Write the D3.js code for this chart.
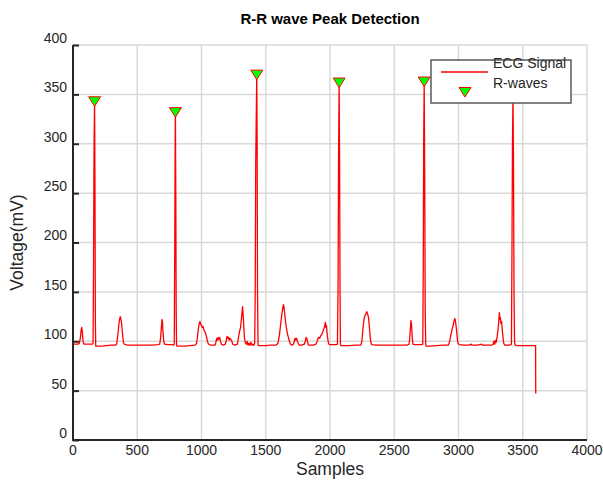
<!DOCTYPE html>
<html>
<head>
    <meta charset="utf-8">
    <title>R-R wave Peak Detection</title>
    <script src="https://d3js.org/d3.v7.min.js"></script>
    <style>
        body { margin: 0px; background: #fff; }
        text { font-family: "Liberation Sans", Arial, sans-serif; fill: #262626; }
    </style>
</head>
<body>
<svg width="603" height="480"></svg>
<script>

    // ECG trace: [sample, mV]
    var ecg = [
        [0, 60], [2, 97], [20, 97], [40, 97], [50, 98], [58, 104], [64, 112], [68, 114], [72, 110], [78, 100],
        [85, 97], [100, 97], [130, 97], [150, 97], [156, 98], [160, 180], [164, 300], [168, 343], [171, 260],
        [174, 120], [177, 95], [182, 95],
        [200, 95], [230, 95], [260, 95.5], [300, 96], [330, 96], [340, 97], [348, 105], [356, 116], [362, 122],
        [368, 125], [372, 123], [378, 118], [385, 108], [392, 99], [400, 97], [420, 96], [460, 96], [500, 96],
        [560, 96], [620, 96], [660, 96.5], [675, 97], [682, 104], [688, 114], [692, 122], [696, 120], [700, 110],
        [706, 100], [712, 97], [740, 96.5], [770, 96.5], [783, 96], [788, 97], [792, 200], [795, 300], [797, 332],
        [800, 250], [803, 130], [806, 96], [810, 95],
        [830, 95], [870, 95], [910, 95.5], [950, 96], [962, 98], [968, 104], [975, 112], [982, 118], [988, 120],
        [994, 117], [1000, 116], [1006, 114], [1012, 115], [1018, 112], [1025, 110], [1032, 108], [1040, 104],
        [1048, 99], [1056, 97], [1070, 96], [1090, 96], [1105, 96], [1112, 99], [1118, 103], [1124, 101],
        [1130, 104], [1136, 102], [1142, 104], [1148, 100], [1155, 97], [1170, 96], [1185, 97], [1192, 100],
        [1198, 105], [1204, 103], [1210, 104], [1216, 101], [1222, 103], [1228, 102], [1236, 100], [1244, 97],
        [1260, 96], [1280, 97], [1288, 104], [1296, 110], [1304, 114], [1310, 122], [1316, 130], [1320, 135],
        [1324, 127], [1328, 118], [1334, 104], [1340, 99], [1348, 97], [1356, 100], [1362, 96], [1370, 98],
        [1376, 96], [1384, 99], [1392, 96], [1400, 97], [1408, 96], [1414, 98], [1418, 150], [1422, 280],
        [1430, 370], [1433, 300], [1436, 150], [1440, 96], [1446, 95.5],
        [1470, 95.5], [1500, 95.5], [1540, 96], [1580, 96], [1595, 98], [1605, 105], [1615, 116], [1622, 124],
        [1628, 130], [1634, 135], [1638, 137], [1642, 134], [1648, 128], [1654, 120], [1660, 114], [1668, 108],
        [1676, 104], [1684, 100], [1692, 97], [1705, 96], [1715, 97], [1722, 100], [1728, 103], [1734, 101],
        [1740, 103], [1746, 100], [1752, 98], [1760, 96], [1780, 96], [1800, 97], [1808, 100], [1814, 104],
        [1820, 103], [1826, 99], [1832, 96], [1850, 96], [1870, 96], [1890, 97], [1900, 100], [1910, 104],
        [1920, 103], [1930, 106], [1940, 108], [1950, 112], [1958, 115], [1964, 119], [1968, 114], [1972, 116],
        [1976, 110], [1982, 103], [1988, 98], [1995, 96.5], [2010, 96.5], [2030, 96.5], [2050, 96.5], [2058, 97],
        [2063, 160], [2067, 290], [2071, 362], [2075, 280], [2078, 150], [2081, 97], [2086, 95.5],
        [2110, 95.5], [2150, 95.5], [2200, 96], [2240, 96], [2248, 100], [2256, 112], [2264, 122], [2272, 126],
        [2280, 128], [2286, 130], [2292, 128], [2300, 124], [2308, 112], [2316, 100], [2324, 96.5], [2360, 96],
        [2400, 96], [2450, 96], [2500, 96], [2550, 96], [2600, 96], [2615, 97], [2620, 102], [2625, 112],
        [2630, 121], [2635, 116], [2640, 104], [2645, 97], [2660, 96.5], [2690, 96.5], [2710, 96.5], [2722, 97],
        [2726, 180], [2729, 300], [2733, 363], [2737, 270], [2741, 130], [2745, 96], [2750, 95],
        [2780, 95], [2830, 95.5], [2880, 96], [2920, 96], [2930, 99], [2940, 106], [2950, 112], [2960, 117],
        [2966, 121], [2972, 123], [2978, 119], [2984, 112], [2990, 104], [2996, 98], [3005, 96.5], [3040, 96],
        [3080, 96], [3100, 97], [3104, 96], [3150, 96], [3180, 97], [3184, 96], [3220, 96], [3260, 96],
        [3270, 97], [3276, 100], [3282, 97], [3288, 101], [3294, 99], [3300, 104], [3306, 110], [3312, 118],
        [3318, 129], [3322, 122], [3326, 124], [3330, 118], [3336, 120], [3340, 112], [3346, 104], [3352, 98],
        [3360, 96], [3380, 96], [3400, 96], [3412, 97], [3416, 190], [3420, 300], [3424, 350], [3428, 280],
        [3432, 150], [3436, 100], [3440, 96], [3460, 95.5], [3500, 95.5], [3550, 95.5], [3600, 95.5], [3601, 47]
    ];

    // detected R peaks
    var rSamples = [168, 797, 1430, 2071, 2733, 3424];
    var rVoltages = [343, 332, 370, 362, 363, 350];

    var xTicks = [0, 500, 1000, 1500, 2000, 2500, 3000, 3500, 4000];
    var yTicks = [0, 50, 100, 150, 200, 250, 300, 350, 400];

    var svg = d3.select("svg"),
        margin = {left: 73, right: 16, top: 45, bottom: 40},
        width = +svg.attr("width"),
        height = +svg.attr("height"),
        x0 = margin.left,
        x1 = width - margin.right,
        y0 = height - margin.bottom,
        y1 = margin.top;

    var x = d3.scaleLinear().domain([0, 4000]).range([x0, x1]),
        y = d3.scaleLinear().domain([0, 400]).range([y0, y1]);

    // grid
    var grid = svg.append("g").attr("stroke", "#d9d9d9").attr("stroke-width", 1.5);
    grid.selectAll(".gx").data(xTicks.slice(1)).enter().append("line")
        .attr("x1", function (d){ return x(d); }).attr("x2", function (d){ return x(d); })
        .attr("y1", y0).attr("y2", y1);
    grid.selectAll(".gy").data(yTicks.slice(1)).enter().append("line")
        .attr("y1", function (d){ return y(d); }).attr("y2", function (d){ return y(d); })
        .attr("x1", x0).attr("x2", x1);

    // signal
    var line = d3.line()
        .x(function (d){ return x(d[0]); })
        .y(function (d){ return y(d[1]); });

    svg.append("path")
        .datum(ecg)
        .attr("d", line)
        .attr("fill", "none")
        .attr("stroke", "#ff0000")
        .attr("stroke-width", 1.3)
        .attr("stroke-linejoin", "round");

    // R-wave markers
    var tri = "M-6,-4.5L6,-4.5L0,5Z";
    svg.append("g").selectAll("path")
        .data(rSamples)
        .enter().append("path")
        .attr("d", tri)
        .attr("transform", function (d, i){ return "translate(" + x(d) + "," + y(rVoltages[i]) + ")"; })
        .attr("fill", "#00ff00")
        .attr("stroke", "#ff0000")
        .attr("stroke-width", 1);

    // axes
    var yAxis = svg.append("g")
        .attr("transform", "translate(" + x0 + ",0)")
        .call(d3.axisRight(y).tickValues(yTicks).tickSize(6).tickFormat(""));
    yAxis.select(".domain").remove();
    yAxis.selectAll(".tick line").attr("stroke", "#262626").attr("stroke-width", 2);

    svg.append("g").selectAll("text")
        .data(yTicks)
        .enter().append("text")
        .attr("x", x0 - 6)
        .attr("y", function (d){ return y(d) - 7; })
        .attr("dy", "0.35em")
        .attr("text-anchor", "end")
        .attr("font-size", 14)
        .text(function (d){ return d; });

    svg.append("g").selectAll("text")
        .data(xTicks)
        .enter().append("text")
        .attr("x", function (d){ return x(d); })
        .attr("y", y0 + 10)
        .attr("dy", "0.35em")
        .attr("text-anchor", "middle")
        .attr("font-size", 14)
        .text(function (d){ return d; });

    svg.append("line")
        .attr("x1", x0).attr("x2", x0).attr("y1", y1).attr("y2", y0 + 1)
        .attr("stroke", "#262626").attr("stroke-width", 2);
    svg.append("line")
        .attr("x1", x0 - 1).attr("x2", x1).attr("y1", y0).attr("y2", y0)
        .attr("stroke", "#262626").attr("stroke-width", 2);

    // titles
    svg.append("text")
        .attr("x", (x0 + x1) / 2).attr("y", 24)
        .attr("text-anchor", "middle")
        .attr("font-size", 15).attr("font-weight", "bold")
        .style("fill", "#000")
        .text("R-R wave Peak Detection");

    svg.append("text")
        .attr("x", (x0 + x1) / 2).attr("y", 475)
        .attr("text-anchor", "middle")
        .attr("font-size", 17.5)
        .text("Samples");

    svg.append("text")
        .attr("transform", "translate(23," + (y0 + y1) / 2 + ") rotate(-90)")
        .attr("text-anchor", "middle")
        .attr("font-size", 17.5)
        .text("Voltage(mV)");

    // legend
    var lg = svg.append("g");
    lg.append("rect")
        .attr("x", 431).attr("y", 60).attr("width", 140).attr("height", 43)
        .attr("fill", "#fff").attr("stroke", "#5a5a5a").attr("stroke-width", 1.5);
    lg.append("line")
        .attr("x1", 441).attr("x2", 488).attr("y1", 72).attr("y2", 72)
        .attr("stroke", "#ff0000").attr("stroke-width", 1.3);
    lg.append("path")
        .attr("d", tri)
        .attr("transform", "translate(465,92)")
        .attr("fill", "#00ff00").attr("stroke", "#ff0000");
    lg.append("text").attr("x", 493).attr("y", 68).attr("font-size", 14).text("ECG Signal");
    lg.append("text").attr("x", 493).attr("y", 88).attr("font-size", 14).text("R-waves");

</script>
</body>
</html>
